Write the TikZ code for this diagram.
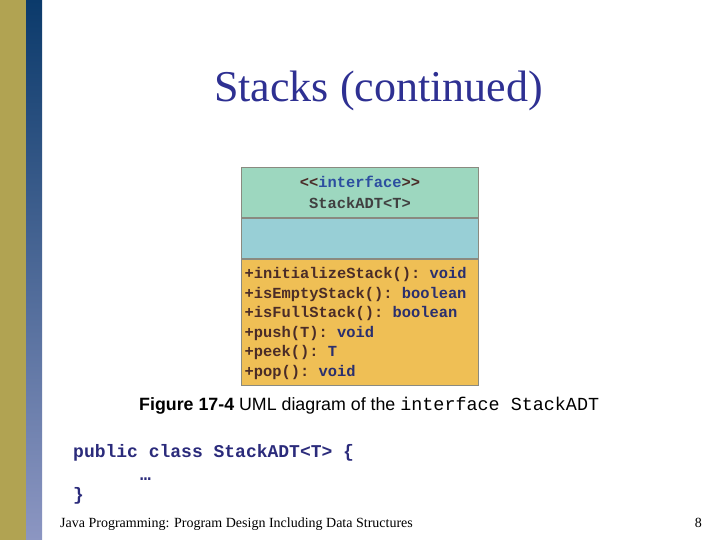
\documentclass[tikz,border=0pt]{standalone}
\usepackage{fontspec}
\setmainfont{Liberation Serif}
\setsansfont{Liberation Sans}
\setmonofont{Liberation Mono}
\usetikzlibrary{positioning, calc}
\definecolor{BarOlive}{HTML}{B1A352}
\definecolor{BarBlueTop}{HTML}{0B3A6B}
\definecolor{BarBlueLow}{HTML}{8C96C2}
\definecolor{TitleBlue}{HTML}{2E3092}
\definecolor{HeadGreen}{HTML}{9DD7BF}
\definecolor{AttrCyan}{HTML}{98CFD6}
\definecolor{OpOrange}{HTML}{EFBF55}
\definecolor{BoxEdge}{HTML}{8A8A80}
\definecolor{OpName}{HTML}{4A2C28}
\definecolor{OpType}{HTML}{2A2F6E}
\definecolor{KeyBlue}{HTML}{2C4EA0}
\definecolor{CodeNavy}{HTML}{2B2B7B}

\begin{document}
\begin{tikzpicture}[x=1pt, y=-1pt,
    compartment/.style={draw=BoxEdge, line width=0.8pt, minimum width=237pt,
        inner sep=0pt},
    member/.style={anchor=base west, inner sep=0pt,
        font=\fontsize{15.4}{15.4}\selectfont\ttfamily\bfseries},
    codeline/.style={anchor=base west, inner sep=0pt, text=CodeNavy,
        font=\fontsize{18}{18}\selectfont\ttfamily\bfseries}]
    \useasboundingbox (0,0) rectangle (720,540);

    % Side bars
    \fill[BarOlive] (0,0) rectangle (26,540);
    \shade[top color=BarBlueTop, bottom color=BarBlueLow] (26,0) rectangle (42,540);

    % Title
    \node[anchor=base, inner sep=0pt, text=TitleBlue, font=\fontsize{44}{44}\selectfont]
        (title) at (378.5,102) {Stacks (continued)};

    % UML class box
    \node[compartment, fill=HeadGreen, minimum height=50pt, anchor=north west]
        (head) at (241,167) {};
    \node[compartment, fill=AttrCyan, minimum height=40pt, below=0pt of head] (attrs) {};
    \node[compartment, fill=OpOrange, minimum height=126pt, below=0pt of attrs] (ops) {};

    \node[member, anchor=base, text=OpName] (stereo) at (360,188)
        {<<\textcolor{KeyBlue}{interface}>>};
    \node[member, anchor=base, text=black!75] (cname) at (360,209) {StackADT<T>};

    \foreach \opname/\optype [count=\i] in {+initializeStack():/void,
        +isEmptyStack():/boolean, +isFullStack():/boolean, +push(T):/void,
        +peek():/T, +pop():/void}
        \node[member, text=OpName] (op\i) at (244.5,{278.4+19.6*(\i-1)})
            {\opname{} \textcolor{OpType}{\optype}};

    % Caption
    \node[anchor=base west, inner sep=0pt, font=\fontsize{17.8}{17.8}\selectfont\sffamily]
        (caption) at (139,410) {\textbf{Figure 17-4} UML diagram of the
        {\fontsize{18.4}{18.4}\selectfont\ttfamily interface StackADT}};

    % Code
    \node[codeline] (code1) at (73,457) {public class StackADT<T> \{};
    \node[codeline] (code2) at (140,480) {…};
    \node[codeline] (code3) at (73,500) {\}};

    % Footer
    \node[anchor=base west, inner sep=0pt, font=\fontsize{14}{14}\selectfont]
        (footer) at (60,527) {Java Programming: Program Design Including Data Structures};
    \node[anchor=base east, inner sep=0pt, font=\fontsize{14}{14}\selectfont]
        (pageno) at (702,527) {8};
\end{tikzpicture}
\end{document}
